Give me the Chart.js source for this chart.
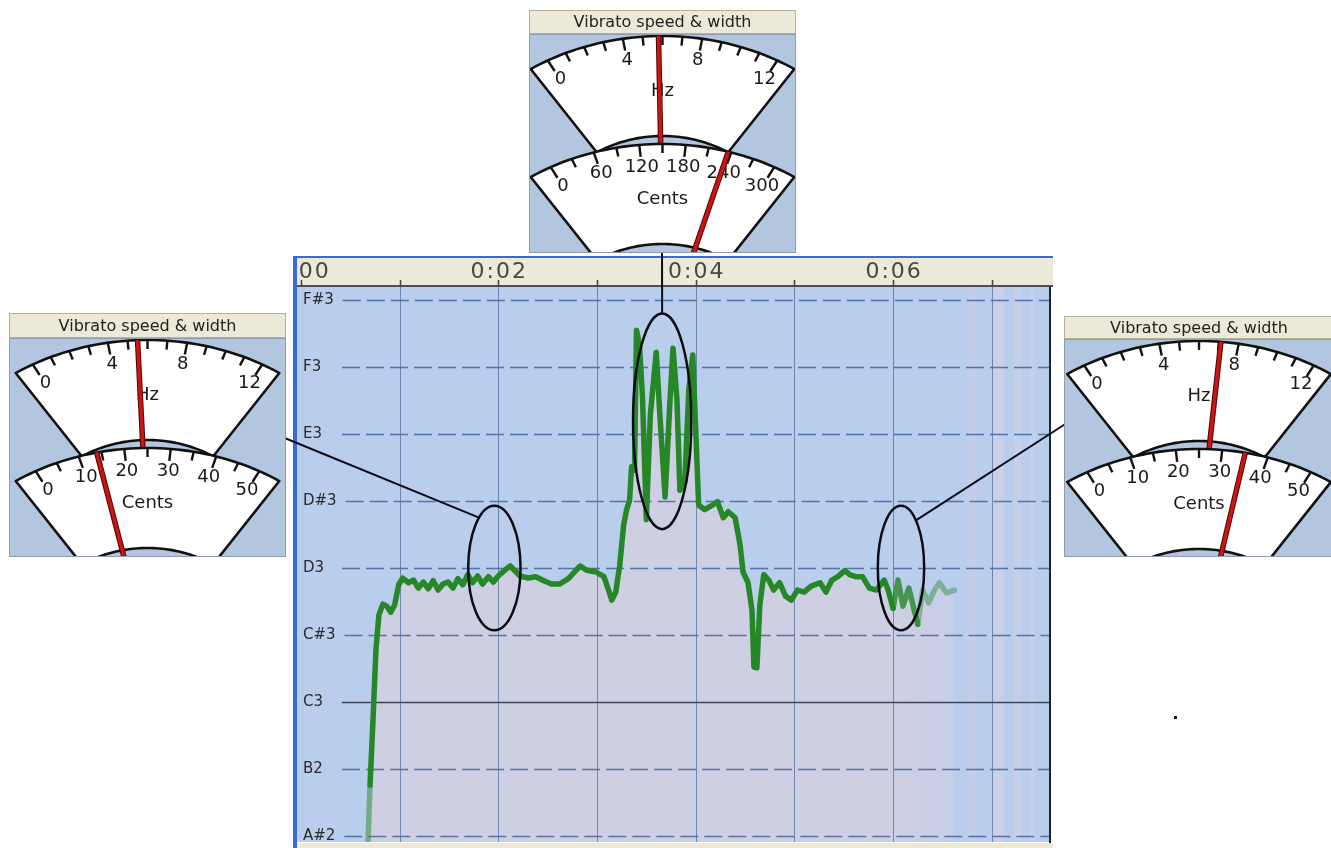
<!DOCTYPE html>
<html>
<head>
<meta charset="utf-8">
<title>Vibrato speed &amp; width</title>
<script src="https://cdn.jsdelivr.net/npm/chart.js@4.4.0/dist/chart.umd.min.js"></script>
<style>
  html, body { margin: 0; padding: 0; background: #fff; }
  #wrap { position: relative; width: 1331px; height: 848px; }
</style>
</head>
<body>
<div id="wrap"><canvas id="pitch" width="1331" height="848"></canvas></div>
<script>
// pitch track: time in seconds, pitch in semitones (A#2 = 46)
var times = [0.68,0.70,0.73,0.76,0.79,0.83,0.87,0.91,0.95,0.99,
  1.03,1.09,1.14,1.19,1.24,1.29,1.34,1.39,1.44,1.49,
  1.54,1.59,1.64,1.69,1.74,1.79,1.84,1.90,1.95,2.00,
  2.06,2.12,2.16,2.22,2.30,2.38,2.46,2.54,2.62,2.71,
  2.79,2.83,2.89,2.99,3.07,3.11,3.15,3.19,3.23,3.27,
  3.30,3.33,3.35,3.38,3.40,3.43,3.46,3.50,3.54,3.60,
  3.64,3.69,3.74,3.77,3.81,3.84,3.89,3.93,3.97,4.00,
  4.03,4.09,4.16,4.22,4.28,4.33,4.40,4.45,4.48,4.53,
  4.57,4.59,4.62,4.65,4.69,4.74,4.79,4.85,4.91,4.97,
  5.03,5.10,5.17,5.26,5.32,5.38,5.44,5.51,5.56,5.62,
  5.69,5.76,5.83,5.91,5.95,6.00,6.05,6.10,6.16,6.21,
  6.25,6.30,6.36,6.42,6.47,6.54,6.62];
var pitches = [45.94,46.76,47.73,48.78,49.30,49.46,49.43,49.34,49.45,49.75,
  49.85,49.78,49.82,49.70,49.79,49.69,49.81,49.67,49.76,49.79,
  49.70,49.84,49.75,49.90,49.78,49.88,49.76,49.87,49.79,49.88,
  49.96,50.03,49.97,49.88,49.85,49.87,49.81,49.76,49.76,49.84,
  49.97,50.03,49.97,49.94,49.87,49.70,49.52,49.64,50.04,50.64,
  50.87,51.01,51.51,51.46,53.55,53.33,52.58,50.72,52.28,53.22,
  52.21,51.06,52.51,53.28,52.51,51.16,51.28,52.66,53.18,52.06,
  50.94,50.87,50.93,50.99,50.75,50.84,50.75,50.34,49.94,49.78,
  49.37,48.52,48.51,49.45,49.90,49.82,49.67,49.78,49.58,49.52,
  49.67,49.64,49.73,49.78,49.64,49.82,49.87,49.96,49.90,49.87,
  49.87,49.70,49.67,49.82,49.67,49.40,49.82,49.43,49.70,49.39,
  49.16,49.67,49.48,49.67,49.78,49.63,49.67];

// note axis
var noteValues = [46, 47, 48, 49, 50, 51, 52, 53, 54];
var noteNames = ['A#2', 'B2', 'C3', 'C#3', 'D3', 'D#3', 'E3', 'F3', 'F#3'];

// time axis (header)
var timeTicks = [0, 1, 2, 3, 4, 5, 6, 7];
var timeLabels = ['0:00', '', '0:02', '', '0:04', '', '0:06', ''];

// circled passages: centre time, centre pitch, half width (s), half height (semitones)
var markTimes = [1.96, 3.66, 6.08];
var markPitches = [50.0, 52.19, 50.0];
var markHalfTime = [0.265, 0.295, 0.235];
var markHalfPitch = [0.93, 1.61, 0.93];

// gauge readings: left, top, right
var gaugeHz = [5.5, 5.8, 7.1];
var gaugeCents = [14, 236, 35];
var hzLabels = [0, 4, 8, 12];
var centsLabelsSmall = [0, 10, 20, 30, 40, 50];
var centsLabelsLarge = [0, 60, 120, 180, 240, 300];

var GREEN = 'rgb(38,135,38)';
var PLOT_BLUE = 'rgb(185,205,237)';
var LAVENDER = 'rgb(206,207,227)';
var BEIGE = '#ece9d8';
var NOTE_FONT = '15px "DejaVu Sans"';

// gauge geometry
var SWEEP = 33.5 * Math.PI / 180;
var R_OUT = 199, R_IN = 99, SX = 1.2, DROP = 108;

var gauges = [
  {left: 9, top: 313, width: 277, body: 338, bottom: 557, lo: -5, hi: 55, step: 5, labels: centsLabelsSmall},
  {left: 529, top: 10, width: 267, body: 34, bottom: 253, lo: -30, hi: 330, step: 30, labels: centsLabelsLarge},
  {left: 1064, top: 316, width: 270, body: 339, bottom: 557, lo: -5, hi: 55, step: 5, labels: centsLabelsSmall}
];

function gp(cx, py, r, a) {
  return [cx + SX * r * Math.sin(a), py - r * Math.cos(a)];
}

function ang(v, lo, hi) {
  return -SWEEP + (v - lo) / (hi - lo) * 2 * SWEEP;
}

function drawSector(c, cx, py) {
  var n = 48, i, p;
  c.beginPath();
  for (i = 0; i <= n; i++) {
    p = gp(cx, py, R_OUT, -SWEEP + 2 * SWEEP * i / n);
    if (i === 0) c.moveTo(p[0], p[1]); else c.lineTo(p[0], p[1]);
  }
  for (i = n; i >= 0; i--) {
    p = gp(cx, py, R_IN, -SWEEP + 2 * SWEEP * i / n);
    c.lineTo(p[0], p[1]);
  }
  c.closePath();
  c.fillStyle = '#fff';
  c.fill();
  c.lineWidth = 2.6;
  c.strokeStyle = '#111';
  c.lineJoin = 'round';
  c.stroke();
}

function drawScale(c, cx, py, lo, hi, first, last, step, labels, unit) {
  var v, a, p0, p1, long;
  c.strokeStyle = '#111';
  c.lineWidth = 2.4;
  for (v = first; v <= last + 1e-6; v += step) {
    a = ang(v, lo, hi);
    long = labels.indexOf(v) >= 0;
    p0 = gp(cx, py, R_OUT, a);
    p1 = gp(cx, py, R_OUT - (long ? 12 : 9), a);
    c.beginPath();
    c.moveTo(p0[0], p0[1]);
    c.lineTo(p1[0], p1[1]);
    c.stroke();
  }
  c.fillStyle = '#1a1a1a';
  c.font = '18px "DejaVu Sans"';
  c.textAlign = 'center';
  c.textBaseline = 'middle';
  labels.forEach(function(l) {
    var p = gp(cx, py, 177, ang(l, lo, hi));
    c.fillText(String(l), p[0], p[1]);
  });
  var u = gp(cx, py, 144, 0);
  c.fillText(unit, u[0], u[1]);
}

function drawNeedle(c, cx, py, a, r0, r1) {
  var p0 = gp(cx, py, r0, a), p1 = gp(cx, py, r1, a);
  c.lineCap = 'butt';
  c.strokeStyle = '#4a0606';
  c.lineWidth = 5.5;
  c.beginPath(); c.moveTo(p0[0], p0[1]); c.lineTo(p1[0], p1[1]); c.stroke();
  c.strokeStyle = '#cc1414';
  c.lineWidth = 3.5;
  c.beginPath(); c.moveTo(p0[0], p0[1]); c.lineTo(p1[0], p1[1]); c.stroke();
}

function drawGauge(c, g, hz, cents) {
  var cx = g.left + g.width / 2;
  var py = g.body + 2 + R_OUT;
  c.save();
  // title bar
  c.fillStyle = BEIGE;
  c.fillRect(g.left, g.top, g.width, g.body - g.top);
  c.strokeStyle = '#b4b09c';
  c.lineWidth = 1;
  c.strokeRect(g.left + 0.5, g.top + 0.5, g.width - 1, g.body - g.top - 1);
  c.fillStyle = '#222';
  c.font = '16px "DejaVu Sans"';
  c.textAlign = 'center';
  c.textBaseline = 'middle';
  c.fillText('Vibrato speed & width', cx, (g.top + g.body) / 2 + 1);
  // body
  c.beginPath();
  c.rect(g.left, g.body, g.width, g.bottom - g.body);
  c.clip();
  c.fillStyle = '#b3c6df';
  c.fillRect(g.left, g.body, g.width, g.bottom - g.body);
  // Hz meter
  drawSector(c, cx, py);
  drawScale(c, cx, py, -1, 13, 0, 12, 1, hzLabels, 'Hz');
  drawNeedle(c, cx, py, ang(hz, -1, 13), 88, R_OUT);
  // Cents meter
  drawSector(c, cx, py + DROP);
  drawScale(c, cx, py + DROP, g.lo, g.hi, 0, g.labels[g.labels.length - 1], g.step, g.labels, 'Cents');
  drawNeedle(c, cx, py + DROP, ang(cents, g.lo, g.hi), 0, R_OUT);
  c.restore();
  c.save();
  c.strokeStyle = '#8e9bb0';
  c.lineWidth = 1;
  c.strokeRect(g.left + 0.5, g.body + 0.5, g.width - 1, g.bottom - g.body - 1);
  c.restore();
}

var panelPlugin = {
  id: 'panel',
  beforeDraw: function(chart) {
    var c = chart.ctx, a = chart.chartArea;
    c.save();
    c.fillStyle = '#fff';
    c.fillRect(0, 0, chart.width, chart.height);
    c.fillStyle = PLOT_BLUE;
    c.fillRect(a.left, a.top, a.right - a.left, a.bottom - a.top);
    c.restore();
  },
  beforeDatasetsDraw: function(chart) {
    var c = chart.ctx, a = chart.chartArea, xs = chart.scales.x, ys = chart.scales.y;
    c.save();
    // faint bands after the note ends
    [[6.75, 6.85, 'rgba(215,205,225,0.35)'], [7.0, 7.12, 'rgba(232,210,220,0.4)'],
     [7.22, 7.3, 'rgba(228,212,222,0.3)'], [7.38, 7.44, 'rgba(205,215,240,0.4)']].forEach(function(b) {
      var x0 = xs.getPixelForValue(b[0]), x1 = xs.getPixelForValue(b[1]);
      c.fillStyle = b[2];
      c.fillRect(x0, a.top, x1 - x0, a.bottom - a.top);
    });
    // one vertical line per second
    c.strokeStyle = 'rgba(92,122,168,0.85)';
    c.lineWidth = 1;
    timeTicks.forEach(function(t) {
      if (t === 0) return;
      var x = Math.round(xs.getPixelForValue(t)) + 0.5;
      c.beginPath();
      c.moveTo(x, a.top);
      c.lineTo(x, a.bottom);
      c.stroke();
    });
    // note lines (dashed except C3) and note names
    c.font = NOTE_FONT;
    c.textAlign = 'left';
    c.textBaseline = 'middle';
    noteValues.forEach(function(v, i) {
      var y = Math.round(ys.getPixelForValue(v)) + 0.5;
      var w = c.measureText(noteNames[i]).width;
      var x0 = Math.max(342, a.left + 6 + w + 9);
      c.beginPath();
      if (noteNames[i] === 'C3') {
        c.setLineDash([]);
        c.strokeStyle = '#3c4458';
      } else {
        c.setLineDash([18, 6]);
        c.strokeStyle = 'rgba(70,108,160,0.9)';
      }
      c.lineWidth = 1.5;
      c.moveTo(x0, y);
      c.lineTo(a.right, y);
      c.stroke();
      c.fillStyle = '#2a2a2a';
      c.fillText(noteNames[i], a.left + 6, y);
    });
    c.restore();
  },
  afterDraw: function(chart) {
    var c = chart.ctx, a = chart.chartArea, xs = chart.scales.x, ys = chart.scales.y;
    c.save();
    // panel frame and time header
    c.fillStyle = BEIGE;
    c.fillRect(a.left, 258, 756, a.top - 258);
    c.fillRect(a.left, a.bottom + 1, 756, 848 - a.bottom);
    c.fillStyle = '#4a4e58';
    c.fillRect(a.left, a.top - 2, 756, 2);
    c.fillStyle = '#3a6cd0';
    c.fillRect(294, 256, 759, 2);
    c.fillRect(293, 256, 4, 592);
    c.fillStyle = '#1e2530';
    c.fillRect(a.right - 1, a.top, 2, a.bottom - a.top + 1);
    c.strokeStyle = '#444';
    c.lineWidth = 1.5;
    timeTicks.forEach(function(t) {
      var x = Math.round(xs.getPixelForValue(t)) + 0.5;
      c.beginPath();
      c.moveTo(x, a.top - 7);
      c.lineTo(x, a.top - 1);
      c.stroke();
    });
    c.save();
    c.beginPath();
    c.rect(a.left, 258, 756, a.top - 258);
    c.clip();
    c.fillStyle = '#484848';
    c.font = '22px "DejaVu Sans"';
    c.letterSpacing = '2px';
    c.textAlign = 'center';
    c.textBaseline = 'alphabetic';
    timeTicks.forEach(function(t, i) {
      if (timeLabels[i]) c.fillText(timeLabels[i], xs.getPixelForValue(t) + 1, 278);
    });
    c.restore();

    // circled passages
    var centres = [];
    c.strokeStyle = '#0c0c14';
    c.lineWidth = 2.5;
    markTimes.forEach(function(t, i) {
      var x = xs.getPixelForValue(t), y = ys.getPixelForValue(markPitches[i]);
      var rx = xs.getPixelForValue(t + markHalfTime[i]) - x;
      var ry = y - ys.getPixelForValue(markPitches[i] + markHalfPitch[i]);
      centres.push([x, y, rx, ry]);
      c.beginPath();
      c.ellipse(x, y, rx, ry, 0, 0, Math.PI * 2);
      c.stroke();
    });
    // leader lines to the gauges
    function rim(e, th) { return [e[0] + e[2] * Math.cos(th), e[1] + e[3] * Math.sin(th)]; }
    var ends = [[270, 432, rim(centres[0], -2.2)], [662, 240, rim(centres[1], -Math.PI / 2)], [1070, 421, rim(centres[2], -0.87)]];
    c.lineWidth = 2;
    ends.forEach(function(e) {
      c.beginPath();
      c.moveTo(e[0], e[1]);
      c.lineTo(e[2][0], e[2][1]);
      c.stroke();
    });

    // gauges
    gauges.forEach(function(g, i) { drawGauge(c, g, gaugeHz[i], gaugeCents[i]); });

    // stray dot
    c.fillStyle = '#111';
    c.fillRect(1174, 716, 3, 3);
    c.restore();
  }
};

var ctx = document.getElementById('pitch').getContext('2d');
var pitchChart = new Chart(ctx, {
  type: 'line',
  data: {
    datasets: [{
      data: times.map(function(t, i) { return {x: t, y: pitches[i]}; }),
      borderColor: GREEN,
      borderWidth: 5.5,
      borderJoinStyle: 'round',
      borderCapStyle: 'round',
      pointRadius: 0,
      tension: 0,
      fill: 'start',
      backgroundColor: function(context) {
        var chart = context.chart;
        if (!chart.chartArea) return LAVENDER;
        var xs = chart.scales.x;
        var g = chart.ctx.createLinearGradient(xs.getPixelForValue(6.0), 0, xs.getPixelForValue(6.65), 0);
        g.addColorStop(0, 'rgba(206,207,227,1)');
        g.addColorStop(1, 'rgba(206,207,227,0.6)');
        return g;
      },
      segment: {
        borderColor: function(s) {
          var t = s.p0.parsed.x;
          if (t < 0.69) return 'rgba(38,135,38,0.5)';
          if (t >= 6.22) return 'rgba(38,135,38,0.42)';
          if (t >= 6.0) return 'rgba(38,135,38,0.8)';
          return GREEN;
        }
      }
    }]
  },
  options: {
    responsive: false,
    animation: false,
    devicePixelRatio: 1,
    layout: {padding: {left: 297, right: 281, top: 287, bottom: 6}},
    plugins: {
      legend: {display: false},
      tooltip: {enabled: false},
      filler: {drawTime: 'beforeDatasetsDraw'}
    },
    scales: {
      x: {
        type: 'linear',
        min: -0.04,
        max: 7.59,
        display: false
      },
      y: {
        type: 'linear',
        min: 45.91,
        max: 54.194,
        display: false
      }
    }
  },
  plugins: [panelPlugin]
});
</script>
</body>
</html>
